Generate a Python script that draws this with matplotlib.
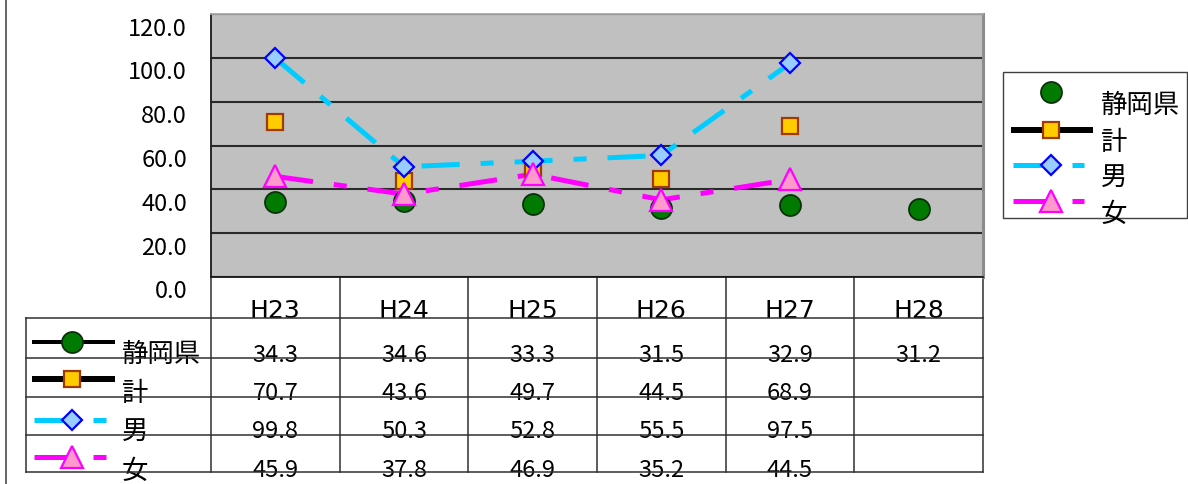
import numpy as np
import matplotlib
matplotlib.use("Agg")
import matplotlib.pyplot as plt
from matplotlib.transforms import offset_copy
from matplotlib.patches import Rectangle

plt.rcParams['font.family'] = ['Noto Sans CJK JP', 'DejaVu Sans']
plt.rcParams['lines.scale_dashes'] = False

# ---- data ----
years = ['H23', 'H24', 'H25', 'H26', 'H27', 'H28']
shizuoka = [34.3, 34.6, 33.3, 31.5, 32.9, 31.2]
total = [70.7, 43.6, 49.7, 44.5, 68.9, np.nan]
male = [99.8, 50.3, 52.8, 55.5, 97.5, np.nan]
female = [45.9, 37.8, 46.9, 35.2, 44.5, np.nan]
series_names = ['静岡県', '計', '男', '女']
y_ticks = [0, 20, 40, 60, 80, 100, 120]

# ---- canvas / geometry (pixels) ----
W, H, DPI = 1188, 484, 100
P = 72 / DPI                      # points per pixel
LEFT, RIGHT, TOP, BOTTOM = 211, 983, 14, 277
NCAT = len(years)
CW = (RIGHT - LEFT) / NCAT

DASH = (0, (38 * P, 21 * P, 13 * P, 21 * P))

styles = [
    dict(marker='o', ms=21 * P, mfc='#007A00', mec='#0A300A', mew=1.3,
         color='black', lw=4 * P, ls='none', key_ls='-'),
    dict(marker='s', ms=16 * P, mfc='#FFCC00', mec='#A03A00', mew=1.6,
         color='black', lw=6 * P, ls='none', key_ls='-'),
    dict(marker='D', ms=14.5 * P, mfc='#99CCFF', mec='#0000FF', mew=1.6,
         color='#00CCFF', lw=5 * P, ls=DASH, key_ls=DASH),
    dict(marker='^', ms=22 * P, mfc='#FF99CC', mec='#FF00FF', mew=1.6,
         color='#FF00FF', lw=5 * P, ls=DASH, key_ls=DASH),
]
values = [shizuoka, total, male, female]

fig = plt.figure(figsize=(W / DPI, H / DPI), dpi=DPI)
fig.patch.set_facecolor('white')

# overlay axes in pixel coordinates for the table and legend
lay = fig.add_axes([0, 0, 1, 1], zorder=0)
lay.set_xlim(0, W)
lay.set_ylim(H, 0)
lay.axis('off')
lay.patch.set_alpha(0)

# ---- plot area ----
ax = fig.add_axes([LEFT / W, (H - BOTTOM) / H, (RIGHT - LEFT) / W, (BOTTOM - TOP) / H], zorder=2)
ax.set_facecolor('#C0C0C0')
ax.set_xlim(-0.5, NCAT - 0.5)
ax.set_ylim(0, 120)
ax.set_yticks(y_ticks)
ax.set_xticks([])
ax.tick_params(axis='y', length=0, labelleft=False)
ax.yaxis.grid(True, color='#2A2A2A', lw=1.5)
ax.set_axisbelow(True)
for side, col, lw in [('left', '#1A1A1A', 1.3), ('bottom', '#1A1A1A', 1.3),
                      ('top', '#A8A8A8', 1.3), ('right', '#8C8C8C', 2.2)]:
    ax.spines[side].set_color(col)
    ax.spines[side].set_linewidth(lw)

tick_tr = offset_copy(ax.get_yaxis_transform(), fig=fig, x=-24, y=-21.5, units='dots')
for v in y_ticks:
    ax.text(0, v, f'{v:.1f}', transform=tick_tr, ha='right', va='baseline',
            fontsize=17, clip_on=False)

x = np.arange(NCAT)
for vals, st in zip(values, styles):
    if st['ls'] != 'none':
        ax.plot(x, vals, color=st['color'], lw=st['lw'], ls=st['ls'],
                solid_capstyle='butt', dash_capstyle='butt', zorder=2)
for vals, st in zip(values, styles):
    ax.plot(x, vals, ls='none', marker=st['marker'], ms=st['ms'],
            mfc=st['mfc'], mec=st['mec'], mew=st['mew'], zorder=3)

# ---- data table under the plot ----
LINE_C = '#303030'
row_lines = [318, 358, 397, 435, 472]
for yy in row_lines:
    lay.plot([26, RIGHT], [yy, yy], color=LINE_C, lw=1.1, zorder=3)
for i in range(NCAT + 1):
    xx = LEFT + i * CW
    lay.plot([xx, xx], [BOTTOM, row_lines[-1]], color=LINE_C, lw=1.1, zorder=3)
lay.plot([26, 26], [row_lines[0], row_lines[-1]], color=LINE_C, lw=1.1, zorder=3)

# frame line on the left edge
lay.plot([6, 6], [0, H], color='#3A3A3A', lw=1.1)

for i, yr in enumerate(years):
    lay.text(LEFT + (i + 0.5) * CW, 318, yr, ha='center', va='baseline',
             fontsize=18, family='DejaVu Sans', zorder=2)

value_base = [362, 400, 438, 477]
for r, vals in enumerate(values):
    for i, v in enumerate(vals):
        if not np.isnan(v):
            lay.text(LEFT + (i + 0.5) * CW, value_base[r], f'{v:.1f}',
                     ha='center', va='baseline', fontsize=17, zorder=2)


def draw_key(yk, st, x0, x1, xm, show_line=True):
    if show_line:
        xe = x1 if st['key_ls'] == '-' else x1 - 9
        lay.plot([x0, xe], [yk, yk], color=st['color'], lw=st['lw'],
                 ls=st['key_ls'], solid_capstyle='butt', dash_capstyle='butt', zorder=4)
    lay.plot([xm], [yk], ls='none', marker=st['marker'], ms=st['ms'],
             mfc=st['mfc'], mec=st['mec'], mew=st['mew'], zorder=5)


# keys inside the table
key_y = [342, 379, 420, 457]
name_base = [362, 401, 439, 479]
for r, (name, st) in enumerate(zip(series_names, styles)):
    if st['key_ls'] == '-':
        draw_key(key_y[r], st, 32, 115, 72)
    else:
        draw_key(key_y[r], st, 34, 115, 72)
    lay.text(122, name_base[r], name, ha='left', va='baseline', fontsize=19, zorder=2)

# ---- legend box on the right ----
lay.add_patch(Rectangle((1003, 72), 184, 146, fill=False, ec='#404040', lw=1.0, zorder=3))
leg_y = [92, 130, 165, 201]
leg_base = [113, 150, 185, 222]
for r, (name, st) in enumerate(zip(series_names, styles)):
    draw_key(leg_y[r], st, 1011 if st['key_ls'] == '-' else 1013, 1093, 1051,
             show_line=(st['ls'] != 'none' or r == 1))
    lay.text(1101, leg_base[r], name, ha='left', va='baseline', fontsize=19, zorder=4)

fig.savefig('out.png', dpi=DPI)
